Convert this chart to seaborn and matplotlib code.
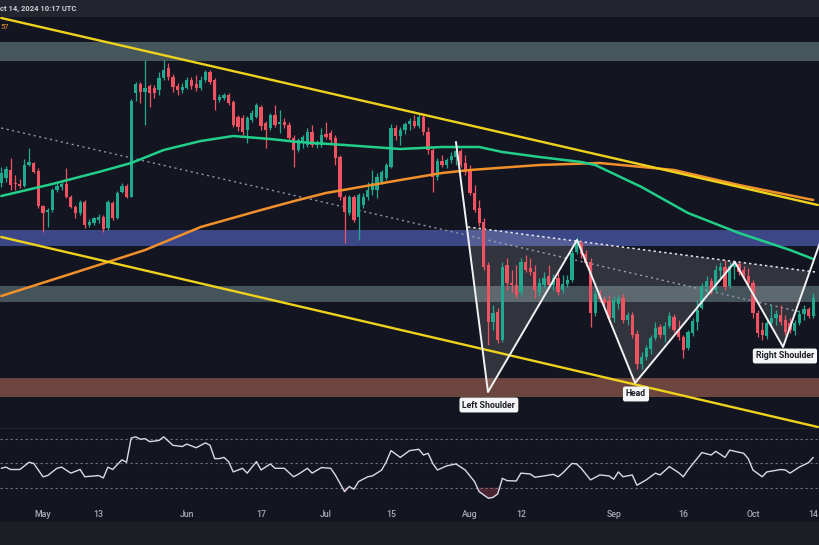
import numpy as np
import pandas as pd
import matplotlib
matplotlib.use("Agg")
import matplotlib.pyplot as plt
from matplotlib.patches import Polygon
import seaborn as sns

sns.set_theme(style="dark")
plt.rcParams['font.family'] = ['Roboto', 'DejaVu Sans']

# ---------------- data (day 0 = 2024-05-01, daily candles) ----------------
first_day = -9
opens = [417,422,430,417,416,414,435,437,429,394,
         388,390,410,413,416,403,393,387,398,375,
         377,380,383,372,397,382,408,414,403,507,
         516,508,514,512,510,522,532,523,514,510,
         512,520,516,512,520,528,520,500,502,505,
         498,483,482,470,480,483,493,477,472,485,
         476,478,475,462,450,457,455,468,455,455,
         466,467,462,443,403,387,403,383,395,403,
         410,410,418,422,433,472,464,470,476,479,
         474,483,468,450,423,439,435,440,443,449,
         437,430,407,392,378,335,278,288,260,335,
         317,315,308,338,332,328,308,315,324,315,
         322,310,316,320,348,357,346,338,287,306,
         301,299,282,296,302,280,285,266,236,243,
         251,262,273,265,274,283,270,263,252,267,
         278,292,313,319,310,329,333,314,333,336,
         330,324,317,287,270,264,277,282,285,280,
         277,269,277,286,291,284]
highs = [433,434,442,425,421,441,452,438,432,395,
         392,412,417,418,432,405,395,400,400,381,
         383,386,385,400,399,409,417,416,501,518,
         518,540,516,515,528,540,537,526,517,517,
         523,523,525,524,530,530,522,506,507,507,
         500,485,485,484,490,497,495,479,487,495,
         490,482,478,465,462,465,472,475,460,472,
         478,470,465,445,405,405,405,407,407,418,
         430,427,430,437,476,475,473,478,482,485,
         486,485,473,452,442,445,442,448,457,451,
         445,435,415,400,382,338,295,292,338,342,
         330,335,342,345,342,335,322,328,335,326,
         328,325,325,350,363,360,350,342,310,310,
         304,305,304,305,306,288,288,270,248,255,
         265,278,276,278,288,286,280,265,270,282,
         300,317,324,322,335,338,340,338,338,338,
         334,332,320,290,278,280,295,290,295,285,
         282,280,290,295,293,307]
lows = [413,418,410,410,412,413,434,427,392,368,
        373,388,408,410,402,392,382,385,372,373,
        375,377,368,370,380,381,407,402,403,499,
        497,475,493,502,505,520,520,508,505,507,
        511,511,509,510,518,516,490,498,500,495,
        473,469,465,457,478,482,470,452,470,473,
        467,472,460,433,448,452,453,453,452,453,
        461,457,435,400,357,385,378,360,392,400,
        405,402,416,420,432,460,455,466,470,472,
        472,465,446,408,420,433,432,437,435,433,
        425,405,388,374,330,255,270,257,258,310,
        308,302,305,328,325,302,304,312,312,310,
        305,307,313,318,346,342,334,273,284,298,
        294,278,278,291,277,275,262,231,231,240,
        246,260,262,258,272,268,260,242,250,264,
        270,291,307,306,308,322,310,312,321,325,
        320,315,282,263,260,261,275,275,275,265,
        267,265,275,280,282,282]
closes = [427,431,415,416,414,435,438,428,394,387,
          390,410,414,416,403,393,387,398,375,378,
          382,383,371,398,382,407,414,403,499,516,
          508,512,507,507,522,530,523,513,510,513,
          520,514,512,520,528,518,500,503,505,497,
          475,473,468,482,487,495,474,470,485,475,
          478,475,462,450,460,463,468,455,457,465,
          463,460,442,403,388,403,380,405,403,410,
          417,423,428,435,472,464,470,476,479,474,
          483,468,450,423,439,435,440,444,449,435,
          428,407,390,377,333,278,287,260,333,317,
          315,305,338,330,328,310,317,322,315,322,
          308,316,320,347,358,346,337,287,306,301,
          297,282,300,302,280,285,265,236,243,252,
          262,272,265,274,284,270,263,250,268,279,
          290,314,319,309,330,333,313,334,337,328,
          323,317,287,267,265,277,282,286,278,268,
          270,277,286,291,284,302]

# moving averages
ma_green_days = [-9, 2, 12, 19, 26, 34, 41, 49, 55, 65, 77, 86, 94, 99, 107, 116, 119, 129, 139, 150, 161, 166]
ma_green_vals = [404, 416, 428, 437, 450, 459, 464, 461, 458, 455, 451, 453, 453, 448, 443, 438, 435, 413, 387, 367, 350, 341]
ma_orange_days = [-9, 12, 22, 34, 47, 55, 61, 77, 86, 92, 107, 120, 136, 150, 166]
ma_orange_vals = [304, 335, 350, 373, 390, 400, 407, 420, 427, 430, 435, 437, 430, 415, 400]

# horizontal zones (low, high)
zone_lows = [539, 354, 298, 203]
zone_highs = [558, 370, 314, 222]

# trend lines (two anchor points each)
upper_trend_days, upper_trend_vals = [-9, 167], [582, 395]
lower_trend_days, lower_trend_vals = [-9, 167], [363, 173]
mid_dotted_days, mid_dotted_vals = [-9, 167], [472, 284]
neck_days, neck_vals = [91.6, 166.4], [373, 328]

# inverse head & shoulders zigzag
pattern_days = [89.0, 95.9, 115.1, 127.6, 149.1, 159.5, 167.5]
pattern_vals = [458, 208, 360, 217, 338, 253, 358]
pattern_labels = ["Left Shoulder", "Head", "Right Shoulder"]
label_days = [96.1, 127.8, 159.9]
label_vals = [195, 206, 244]

# RSI
rsi_days = [-9,-8,-7,-5,-3,-2,0,1,3,4,
            6,8,9,12,13,14,15,17,18,19,
            20,21,22,23,25,26,28,30,31,33,
            35,36,37,38,39,40,41,43,44,46,
            47,49,50,52,54,55,57,58,60,62,
            63,65,66,67,68,70,71,73,74,75,
            77,79,81,82,83,84,85,87,89,91,
            93,94,96,97,98,99,100,102,103,105,
            106,108,110,111,112,114,115,116,118,120,
            122,123,124,125,127,128,130,132,133,135,
            137,138,139,142,144,145,147,148,151,152,
            153,155,156,159,160,161,163,165,166]
rsi_vals = [46,47,45,45,51,50,39,40,46,47,
            42,45,39,40,38,47,45,53,51,71,
            72,70,70.5,68,69,72,65,64,66,63,
            67,65,54,54,55,51.5,43,46,42,51.5,
            44.6,49.6,46,46,39,41,46,42,46.6,46,
            40.5,26.7,31,28.7,35,39,39.7,44.6,51.5,60.6,
            55,60.6,61.7,57,58.4,50,44.6,48,49.6,44.6,
            35,26.7,21.2,22,24.8,37.7,35.8,35.5,42,41.3,
            38.6,39.7,41,39,42,50,49.6,46,36.4,40.5,
            39.7,37,43,39,40.5,32,36.4,42,40.5,47.4,
            42.4,39,44.6,59,57,60,55,61,58.4,54,
            44.6,39,43,45,44.6,42,47,50.7,55]
rsi_levels = [70, 50, 30]

tick_days = [0, 12, 31, 47, 61, 75, 92, 103, 123, 138, 153, 166]
tick_labels = ["May", "13", "Jun", "17", "Jul", "15", "Aug", "12", "Sep", "16", "Oct", "14"]
header_text = "ct 14, 2024 10:17 UTC"

# ---------------- style ----------------
BG = "#131621"
GREEN = "#1fa98f"
RED = "#ef5261"
YELLOW = "#efd21c"
MA_GREEN = "#22cf8a"
MA_ORANGE = "#f2902c"
zone_colors = ["#46575c", "#3b4786", "#45535a", "#6c453e"]

fig = plt.figure(figsize=(8.2, 5.45), dpi=100)
fig.patch.set_facecolor(BG)
H = 545.0
XL = (-9.27, 167.46)

def band(top, bottom):
    return [0, 1 - bottom / H, 1, (bottom - top) / H]

def clean(a, fc):
    a.set_facecolor(fc)
    for s in a.spines.values():
        s.set_visible(False)
    a.set_xticks([])
    a.set_yticks([])
    a.set_xlabel("")
    a.set_ylabel("")

ax_head = fig.add_axes(band(0, 17))
ax = fig.add_axes(band(17, 428))
ax_rsi = fig.add_axes(band(428, 500))
ax_time = fig.add_axes(band(500, 522))
ax_foot = fig.add_axes(band(522, 545))

# ---------------- main pane ----------------
ax.set_xlim(*XL)
ax.set_ylim(172, 583)

for lo, hi, c in zip(zone_lows, zone_highs, zone_colors):
    ax.axhspan(lo, hi, color=c, zorder=1, lw=0)

df = pd.DataFrame({"day": np.arange(first_day, first_day + len(opens)),
                   "open": opens, "high": highs, "low": lows, "close": closes})
up = df["close"] >= df["open"]
cols = np.where(up, GREEN, RED)

# dotted guide lines
sns.lineplot(x=mid_dotted_days, y=mid_dotted_vals, ax=ax, color="#8f95a3", lw=1.0,
             linestyle=(0, (1.5, 2.5)), zorder=2)
sns.lineplot(x=neck_days, y=neck_vals, ax=ax, color="#e8e8ee", lw=1.1,
             linestyle=(0, (1.5, 2.0)), zorder=2)

# shaded pattern area between zigzag and neckline
def intersect(p1, p2, q1, q2):
    (x1, y1), (x2, y2) = p1, p2
    (x3, y3), (x4, y4) = q1, q2
    den = (x1 - x2) * (y3 - y4) - (y1 - y2) * (x3 - x4)
    t = ((x1 - x3) * (y3 - y4) - (y1 - y3) * (x3 - x4)) / den
    return (x1 + t * (x2 - x1), y1 + t * (y2 - y1))

pts = list(zip(pattern_days, pattern_vals))
nq1, nq2 = (neck_days[0], neck_vals[0]), (neck_days[1], neck_vals[1])
A = intersect(pts[0], pts[1], nq1, nq2)
B = intersect(pts[5], pts[6], nq1, nq2)
poly = Polygon([A] + pts[1:6] + [B], closed=True, facecolor="white", alpha=0.13,
               edgecolor="none", zorder=2)
ax.add_patch(poly)

# candles
ax.vlines(df["day"], df["low"], df["high"], colors=cols, linewidth=0.9, zorder=3)
body = (df["close"] - df["open"]).abs().clip(lower=0.8)
ax.bar(df["day"], body, bottom=np.minimum(df["open"], df["close"]), width=0.7,
       color=cols, linewidth=0, zorder=3)

# moving averages
sns.lineplot(x=ma_orange_days, y=ma_orange_vals, ax=ax, color=MA_ORANGE, lw=1.8, zorder=4)
sns.lineplot(x=ma_green_days, y=ma_green_vals, ax=ax, color=MA_GREEN, lw=1.8, zorder=4)

# channel lines
sns.lineplot(x=upper_trend_days, y=upper_trend_vals, ax=ax, color=YELLOW, lw=1.7, zorder=5)
sns.lineplot(x=lower_trend_days, y=lower_trend_vals, ax=ax, color=YELLOW, lw=1.7, zorder=5)

# zigzag
ax.plot(pattern_days, pattern_vals, color="#f2f2f5", lw=1.4, zorder=6)

for t, dx, dy in zip(pattern_labels, label_days, label_vals):
    ax.text(dx, dy, t, ha="center", va="center", fontsize=6.3, fontweight="bold",
            color="#1b1e27", zorder=7,
            bbox=dict(boxstyle="round,pad=0.34,rounding_size=0.25", fc="#f5f5f7", ec="none"))
clean(ax, BG)
ax.set_xlim(*XL)
ax.set_ylim(172, 583)

# ---------------- RSI pane ----------------
ax_rsi.set_xlim(*XL)
ax_rsi.set_ylim(19.8, 79.3)
for lv in rsi_levels:
    ax_rsi.axhline(lv, color="#6f7380", lw=0.8, linestyle=(0, (2, 2.5)), zorder=1)
rv = np.array(rsi_vals, dtype=float)
rd = np.array(rsi_days, dtype=float)
ax_rsi.fill_between(rd, rv, 30, where=rv < 30, interpolate=True, color="#ef5261",
                    alpha=0.25, lw=0, zorder=2)
sns.lineplot(x=rsi_days, y=rsi_vals, ax=ax_rsi, color="#d9dce4", lw=1.0, zorder=3)
clean(ax_rsi, BG)
ax_rsi.set_xlim(*XL)
ax_rsi.set_ylim(19.8, 79.3)
ax_rsi.axhline(79.3, color="#262a35", lw=1.2)

# ---------------- time axis ----------------
clean(ax_time, BG)
ax_time.set_xlim(*XL)
ax_time.set_ylim(0, 1)
for d, lab in zip(tick_days, tick_labels):
    ax_time.text(d, 0.32, lab, ha="center", va="center", fontsize=6.3,
                 color="#a8abb4", fontweight="medium")

clean(ax_foot, "#1c1e26")
clean(ax_head, "#23262e")
ax_head.set_xlim(0, 1)
ax_head.set_ylim(0, 1)
ax_head.text(0.0, 0.5, header_text, ha="left", va="center", fontsize=5.5,
             fontweight="bold", color="#cfd1d6")
fig.text(0.0, 1 - 27 / H, "57", ha="left", va="center", fontsize=5.5,
         color=MA_ORANGE)

fig.savefig("out.png", dpi=100, facecolor=BG)
